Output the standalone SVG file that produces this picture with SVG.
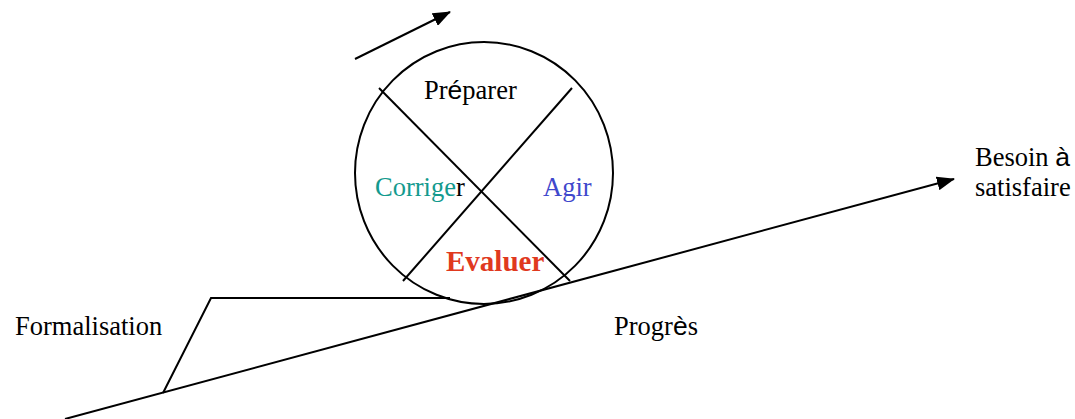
<svg xmlns="http://www.w3.org/2000/svg" width="1075" height="419" viewBox="0 0 1075 419">
<style>
.ln{stroke:#000;stroke-width:2;fill:none}
.t{font-family:"Liberation Serif","Times New Roman",serif;font-size:26.5px}
.s{font-family:"Liberation Sans",Arial,sans-serif}
.k{fill:#000}
.teal{fill:#139A8E}
.blue{fill:#3F48CC}
.red{fill:#E0391E;font-weight:bold;font-size:29px}
</style>
<defs>
<marker id="ah2" markerWidth="18" markerHeight="14" refX="17" refY="7" orient="auto" markerUnits="userSpaceOnUse" viewBox="0 0 18 14">
<path d="M0,0 L18,7 L0,14 z" fill="#000"/>
</marker>
</defs>
<rect width="1075" height="419" fill="#fff"/>
<g id="connectors">
<line class="ln" x1="65" y1="419" x2="954" y2="179" marker-end="url(#ah2)"/>
<line class="ln" x1="355" y1="59" x2="450" y2="12" marker-end="url(#ah2)"/>
<polyline class="ln" points="163,393 211,298 450,298"/>
</g>
<g id="wheel">
<ellipse class="ln" cx="484" cy="173" rx="129" ry="131"/>
<line class="ln" x1="379" y1="88" x2="570" y2="281"/>
<line class="ln" x1="572" y1="88" x2="403" y2="281"/>
</g>
<g id="preparer"><text class="t k" x="424" y="99">Pr<tspan class="s">é</tspan>parer</text></g>
<g id="corriger"><text class="t k" x="375" y="196"><tspan class="teal">Corrige</tspan>r</text></g>
<g id="agir"><text class="t blue" x="543" y="196">Agir</text></g>
<g id="evaluer"><text class="t red" x="446" y="271">Evaluer</text></g>
<g id="formalisation"><text class="t k" x="15" y="335">Formalisation</text></g>
<g id="progres"><text class="t k" x="614" y="335">Progr<tspan class="s">è</tspan>s</text></g>
<g id="besoin"><text class="t k" x="975" y="166">Besoin <tspan class="s">à</tspan></text><text class="t k" x="975" y="196">satisfaire</text></g>
</svg>
